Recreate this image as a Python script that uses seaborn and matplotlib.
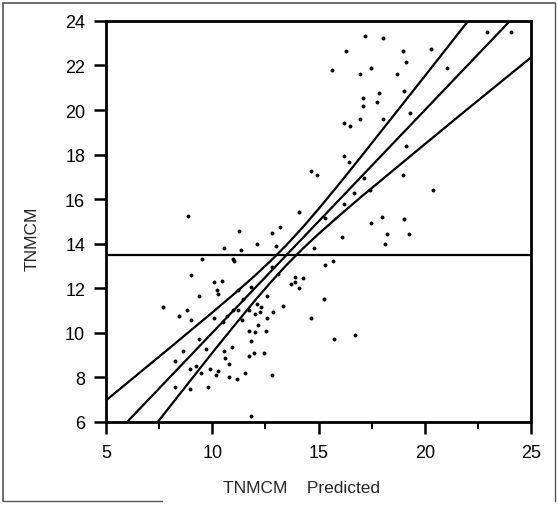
import numpy as np
import pandas as pd
import matplotlib
matplotlib.use("Agg")
import matplotlib.pyplot as plt
import seaborn as sns
from matplotlib.lines import Line2D

# Predicted vs actual TNMCM
pred = [17.17, 18.05, 16.29, 18.98, 20.29, 19.10, 15.62, 17.47, 16.94, 18.71,
        21.02, 22.91, 24.07, 19.01, 17.85, 17.08, 17.75, 17.08, 19.31, 16.94,
        18.05, 16.20, 16.48, 19.10, 16.20, 16.44, 14.65, 14.94, 17.14, 18.96,
        16.68, 17.42, 20.39, 16.20, 14.07, 15.29, 17.96, 19.02, 17.47, 18.24,
        19.23, 16.11, 18.14, 14.76, 15.70, 15.32, 13.89, 14.26, 13.88, 13.68,
        14.07, 15.23, 14.65, 15.72, 16.69,
        8.84, 11.26, 13.19, 12.83, 12.12, 13.00, 10.55, 11.34, 9.50, 10.96,
        11.04, 9.01, 10.10, 10.47, 12.83, 13.11, 11.82, 10.21, 10.28, 9.39,
        11.23, 12.59, 7.67, 8.80, 8.44, 9.01, 10.10, 10.49, 10.71, 10.98,
        11.23, 11.46, 11.73, 12.12, 12.28, 12.25, 12.03, 12.84, 13.34, 12.59,
        11.40, 12.17, 12.01, 11.74, 12.53, 9.39, 11.82, 8.62, 9.69, 10.55,
        10.94, 11.73, 11.95, 12.42, 8.23, 10.59, 10.79, 9.22, 8.94, 9.89,
        9.47, 10.27, 10.19, 10.77, 11.15, 11.56, 12.83, 8.23, 8.94, 9.80,
        11.84]
actual = [23.34, 23.24, 22.65, 22.65, 22.74, 22.17, 21.80, 21.89, 21.61, 21.61,
          21.88, 23.52, 23.52, 20.84, 20.75, 20.56, 20.38, 20.17, 19.88, 19.61,
          19.61, 19.42, 19.26, 18.40, 17.94, 17.66, 17.28, 17.09, 16.95, 17.09,
          16.27, 16.43, 16.43, 15.79, 15.41, 15.14, 15.20, 15.11, 14.93, 14.44,
          14.45, 14.32, 13.98, 13.80, 13.21, 13.02, 12.49, 12.47, 12.27, 12.17,
          11.99, 11.52, 10.66, 9.72, 9.90,
          15.23, 14.57, 14.74, 14.47, 13.99, 13.88, 13.80, 13.72, 13.32, 13.32,
          13.23, 12.57, 12.27, 12.32, 12.97, 12.64, 12.05, 11.90, 11.72, 11.63,
          11.90, 11.63, 11.15, 11.04, 10.77, 10.58, 10.67, 10.50, 10.77, 11.04,
          11.04, 11.52, 11.04, 11.27, 11.15, 10.95, 10.85, 10.95, 11.22, 10.66,
          10.59, 10.36, 10.05, 10.09, 10.09, 9.73, 9.62, 9.18, 9.25, 9.16,
          9.34, 8.95, 9.07, 9.07, 8.71, 8.86, 8.59, 8.50, 8.35, 8.35,
          8.21, 8.30, 8.11, 8.02, 7.93, 8.20, 8.11, 7.56, 7.45, 7.56,
          6.24]

# fit line, mean line and confidence curves
fit_x = [5, 25]
fit_y = [5, 25]
mean_y = 13.5
upper_x = [5, 8, 10, 11, 12, 12.75, 13.5, 14.25, 15, 16, 17, 20, 22, 22.5]
upper_y = [6.96, 9.32, 10.91, 11.72, 12.56, 13.23, 13.95, 14.73, 15.56, 16.72,
           17.91, 21.53, 23.96, 24.57]
lower_x = [6.5, 8, 10, 11, 12, 12.75, 13.5, 14.25, 15, 16, 17, 20, 22, 25]
lower_y = [4.86, 6.68, 9.10, 10.28, 11.44, 12.27, 13.05, 13.77, 14.44, 15.28,
           16.10, 18.47, 20.04, 22.37]

x_major = [5, 10, 15, 20, 25]
x_minor = [7.5, 12.5, 17.5, 22.5]
y_major = [6, 8, 10, 12, 14, 16, 18, 20, 22, 24]

df = pd.DataFrame({"pred": pred, "actual": actual})

sns.set_style("ticks")
plt.rcParams['font.family'] = ['Liberation Sans', 'DejaVu Sans']

fig, ax = plt.subplots(figsize=(5.58, 5.10), dpi=100)
fig.subplots_adjust(left=0.19, right=0.952, top=0.957, bottom=0.171)

sns.scatterplot(data=df, x="pred", y="actual", ax=ax, color="black",
                s=8, linewidth=0, zorder=3)

lw = 1.6
sns.lineplot(x=fit_x, y=fit_y, ax=ax, color="black", lw=lw, sort=False,
             estimator=None)
sns.lineplot(x=upper_x, y=upper_y, ax=ax, color="black", lw=lw, sort=False,
             estimator=None)
sns.lineplot(x=lower_x, y=lower_y, ax=ax, color="black", lw=lw, sort=False,
             estimator=None)
ax.axhline(mean_y, color="black", lw=lw)

ax.set_xlim(5, 25)
ax.set_ylim(6, 24)
ax.set_xticks(x_major)
ax.set_yticks(y_major)
ax.tick_params(axis="both", which="both", length=0, labelsize=13,
               labelcolor="black")
ax.tick_params(axis="x", pad=16)
ax.tick_params(axis="y", pad=15)

# tick marks as figure-level lines at the tick positions
xt = ax.get_xaxis_transform()
yt = ax.get_yaxis_transform()
for v in x_major:
    fig.add_artist(Line2D([v, v], [0, -0.03], transform=xt, color="black",
                          lw=1.8, solid_capstyle="butt", zorder=5))
for v in x_minor:
    fig.add_artist(Line2D([v, v], [0, -0.018], transform=xt, color="black",
                          lw=1.4, solid_capstyle="butt", zorder=5))
for v in y_major:
    fig.add_artist(Line2D([0, -0.028], [v, v], transform=yt, color="black",
                          lw=1.8, solid_capstyle="butt", zorder=5))

for sp in ax.spines.values():
    sp.set_visible(True)
    sp.set_color("black")
    sp.set_linewidth(2.0)

ax.set_xlabel("TNMCM    Predicted", fontsize=12.5)
ax.set_ylabel("TNMCM", fontsize=12.5)
ax.xaxis.set_label_coords(0.46, -0.145)
ax.yaxis.set_label_coords(-0.155, 0.46)

# scanned page border
border = "#555555"
fig.add_artist(Line2D([0.005, 0.995], [0.992, 0.992], color=border, lw=1.2,
                      transform=fig.transFigure))
fig.add_artist(Line2D([0.006, 0.006], [0.015, 0.992], color=border, lw=1.2,
                      transform=fig.transFigure))
fig.add_artist(Line2D([0.995, 0.995], [0.015, 0.992], color=border, lw=1.0,
                      transform=fig.transFigure))
fig.add_artist(Line2D([0.006, 0.29], [0.015, 0.015], color=border, lw=1.0,
                      transform=fig.transFigure))

fig.savefig("out.png", dpi=100)
